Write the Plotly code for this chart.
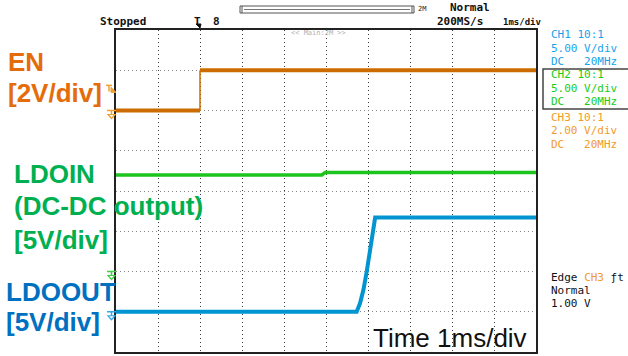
import plotly.graph_objects as go

# ---- canvas / frame (pixels) ----
W, H = 628, 356
FL, FR, FT, FB = 116, 536, 30, 352  # graticule frame

# ---- horizontal: 1 ms/div, 10 div, trigger 2 div from the left ----
time_range = [-2, 8]

# ---- channel settings: (volts per div, ground position in div from bottom) ----
ch1_vdiv, ch1_gnd = 5.0, 1   # LDOOUT
ch2_vdiv, ch2_gnd = 5.0, 2   # LDOIN
ch3_vdiv, ch3_gnd = 2.0, 6   # EN
n_ydiv = 8

# ---- waveforms (time in ms, volts) ----
en_t = [-2.0, 0.0, 0.0, 8.0]
en_v = [0.0, 0.0, 2.0, 2.0]

ldoin_t = [-2.0, 2.90, 2.98, 8.0]
ldoin_v = [12.0, 12.0, 12.3, 12.3]

ldoout_t = [-2.0, 3.73, 3.81, 3.89, 3.97, 4.05, 4.11, 4.17, 8.0]
ldoout_v = [0.0, 0.0, 1.05, 2.7, 5.0, 7.7, 10.2, 11.7, 11.7]

C_EN, C_IN, C_OUT = "#CC6C00", "#1EC41E", "#0095D0"


def yr(vdiv, gnd):
    return [-gnd * vdiv, (n_ydiv - gnd) * vdiv]


def px(x):
    return (x - FL) / (FR - FL)


def py(y):
    return (FB - y) / (FB - FT)


fig = go.Figure()

# EN: levels drawn thick, switching edge thin
fig.add_trace(go.Scatter(x=en_t[:2], y=en_v[:2], mode="lines", yaxis="y3",
                         line=dict(color=C_EN, width=4), hoverinfo="skip"))
fig.add_trace(go.Scatter(x=en_t[1:3], y=en_v[1:3], mode="lines", yaxis="y3",
                         line=dict(color=C_EN, width=1.5), hoverinfo="skip"))
fig.add_trace(go.Scatter(x=en_t[2:], y=en_v[2:], mode="lines", yaxis="y3",
                         line=dict(color=C_EN, width=4), hoverinfo="skip"))

fig.add_trace(go.Scatter(x=ldoin_t, y=ldoin_v, mode="lines", yaxis="y2",
                         line=dict(color=C_IN, width=3.5), hoverinfo="skip"))

fig.add_trace(go.Scatter(x=ldoout_t, y=ldoout_v, mode="lines", yaxis="y",
                         line=dict(color=C_OUT, width=4), hoverinfo="skip"))

ax_common = dict(showticklabels=False, ticks="", zeroline=False)

fig.update_layout(
    width=W, height=H,
    margin=dict(l=FL, r=W - FR, t=FT, b=H - FB, pad=0),
    paper_bgcolor="white", plot_bgcolor="white",
    showlegend=False,
    xaxis=dict(range=time_range, dtick=1, tick0=0, showgrid=True,
               gridcolor="#3A3A3A", gridwidth=1, griddash="1px,3px",
               showline=True, mirror=True, linecolor="#222", linewidth=2,
               **ax_common),
    yaxis=dict(range=yr(ch1_vdiv, ch1_gnd), dtick=ch1_vdiv, tick0=0,
               showgrid=True, gridcolor="#8A8A8A", gridwidth=1,
               griddash="1px,3px",
               showline=True, mirror=True, linecolor="#222", linewidth=2,
               **ax_common),
    yaxis2=dict(range=yr(ch2_vdiv, ch2_gnd), overlaying="y", showgrid=False,
                visible=False, **ax_common),
    yaxis3=dict(range=yr(ch3_vdiv, ch3_gnd), overlaying="y", showgrid=False,
                visible=False, **ax_common),
)

ann = []


def text(x, y, s, size, color, family="Liberation Sans", weight="normal",
         anchor="left"):
    ann.append(dict(xref="paper", yref="paper", x=px(x), y=py(y), text=s,
                    showarrow=False, xanchor=anchor, yanchor="middle",
                    borderpad=0,
                    font=dict(family=family, size=size, color=color,
                              weight=weight)))


# signal labels on the left
LBL = 26
text(7, 62, "EN", LBL, "#E46C0A", weight="bold")
text(7, 93, "[2V/div]", LBL, "#E46C0A", weight="bold")
text(13, 174, "LDOIN", LBL, "#00B050", weight="bold")
text(13, 206, "(DC-DC output)", LBL, "#00B050", weight="bold")
text(13, 240, "[5V/div]", LBL, "#00B050", weight="bold")
text(5, 292, "LDOOUT", LBL, "#0070C0", weight="bold")
text(5, 322, "[5V/div]", LBL, "#0070C0", weight="bold")

text(372, 338, "Time 1ms/div", 26, "#111")

# scope status text
MONO = "DejaVu Sans Mono"
text(99, 22, "Stopped", 11, "#111", MONO, "bold")
text(193, 22, "T", 11, "#111", MONO, "bold")
text(212, 22, "8", 11, "#111", MONO, "bold")
text(449, 8, "Normal", 11, "#111", MONO, "bold")
text(436, 22, "200MS/s", 11, "#111", MONO, "bold")
text(502, 22, "1ms/div", 9, "#111", MONO, "bold")
text(417, 9, "2M", 7, "#222", MONO)
text(290, 33, "<< Main:2M >>", 7, "#B0B0B0", MONO)

# channel panel
CH1C, CH2C, CH3C = "#18A2EC", "#18CC18", "#F29A2A"
text(550, 35, "CH1 10:1", 11, CH1C, MONO)
text(550, 49, "5.00 V/div", 11, CH1C, MONO)
text(550, 62, "DC   20MHz", 11, CH1C, MONO)
text(550, 74, "CH2 10:1", 11, CH2C, MONO)
text(550, 89, "5.00 V/div", 11, CH2C, MONO)
text(550, 101, "DC   20MHz", 11, CH2C, MONO)
text(550, 117, "CH3 10:1", 11, CH3C, MONO)
text(550, 130, "2.00 V/div", 11, CH3C, MONO)
text(550, 144, "DC   20MHz", 11, CH3C, MONO)

# trigger panel
text(550, 277, "Edge <span style='color:%s'>CH3</span> ƒt" % CH3C, 11,
     "#111", MONO)
text(550, 290, "Normal", 11, "#111", MONO)
text(550, 303, "1.00 V", 11, "#111", MONO)

fig.update_layout(annotations=ann)

shapes = []


def pshape(**kw):
    kw.setdefault("xref", "paper")
    kw.setdefault("yref", "paper")
    shapes.append(kw)


# CH2 selection box
pshape(type="rect", x0=px(543), x1=px(629), y0=py(69), y1=py(109),
       line=dict(color="#444", width=1.5))

# record-length bar
pshape(type="rect", x0=px(240), x1=px(414), y0=py(6), y1=py(13),
       line=dict(color="#555", width=1))
pshape(type="line", x0=px(244), x1=px(410), y0=py(9.5), y1=py(9.5),
       line=dict(color="#777", width=1))
for bx in (242, 412):
    pshape(type="line", x0=px(bx), x1=px(bx), y0=py(6), y1=py(13),
           line=dict(color="#555", width=1))

# trigger position arrow under the "T"
pshape(type="path",
       path="M %f,%f L %f,%f L %f,%f Z" % (px(196), py(24), px(201), py(24),
                                           px(200), py(28)),
       fillcolor="#111", line=dict(color="#111", width=1))


def ground_marker(v, vdiv, gnd, color):
    yg = FB - (gnd + v / vdiv) * (FB - FT) / n_ydiv
    pshape(type="line", x0=px(107), x1=px(116), y0=py(yg), y1=py(yg),
           line=dict(color=color, width=1.5))
    pshape(type="line", x0=px(111.5), x1=px(111.5), y0=py(yg), y1=py(yg + 4),
           line=dict(color=color, width=1.5))
    pshape(type="path",
           path="M %f,%f L %f,%f L %f,%f Z" % (px(108), py(yg + 4),
                                               px(115), py(yg + 4),
                                               px(111.5), py(yg + 8)),
           fillcolor="rgba(0,0,0,0)", line=dict(color=color, width=1.2))


ground_marker(0, ch3_vdiv, ch3_gnd, "#F0A030")
ground_marker(0, ch2_vdiv, ch2_gnd, "#40D040")
ground_marker(0, ch1_vdiv, ch1_gnd, "#30A8EC")

# trigger level marker (1.00 V on CH3)
trig_level = 1.0
yt = FB - (ch3_gnd + trig_level / ch3_vdiv) * (FB - FT) / n_ydiv
pshape(type="line", x0=px(106), x1=px(112), y0=py(yt - 5), y1=py(yt - 5),
       line=dict(color="#F0A030", width=1.5))
pshape(type="line", x0=px(109), x1=px(109), y0=py(yt - 5), y1=py(yt + 1),
       line=dict(color="#F0A030", width=1.5))
pshape(type="path",
       path="M %f,%f L %f,%f L %f,%f Z" % (px(111), py(yt - 3), px(111),
                                           py(yt + 2), px(116), py(yt + 2)),
       fillcolor="#F0A030", line=dict(color="#F0A030", width=1))

fig.update_layout(shapes=shapes)

fig.write_html("out.html")
